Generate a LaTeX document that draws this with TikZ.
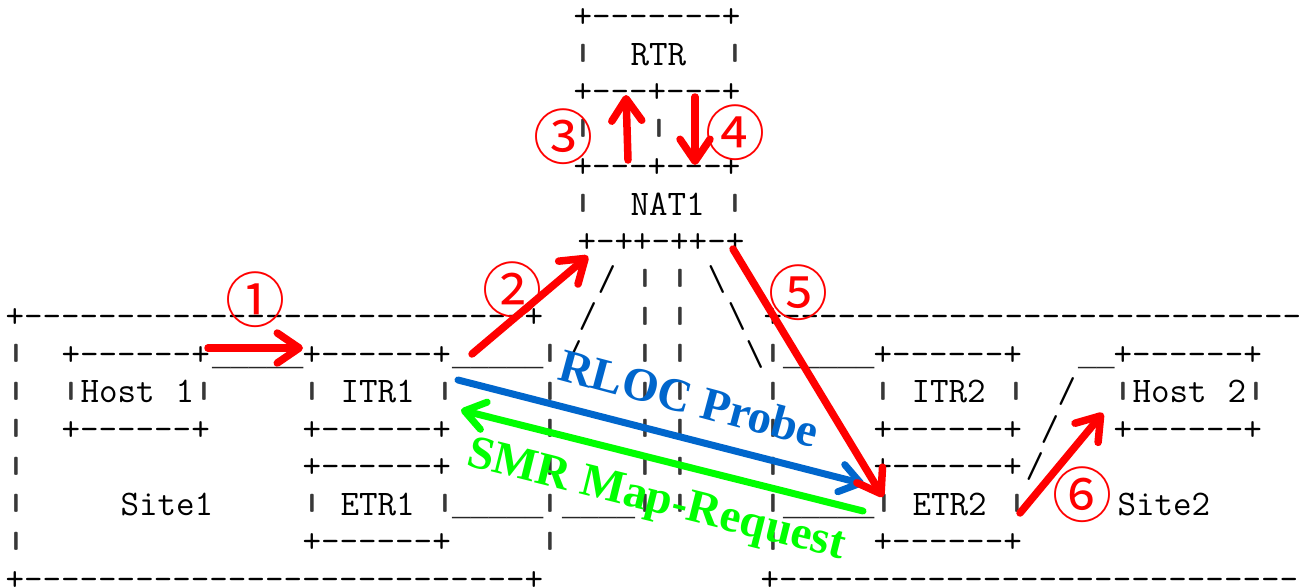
\documentclass[tikz,border=0pt]{standalone}
\usepackage{fontspec}
\usepackage{graphicx}
\newfontfamily\cjk{Noto Sans CJK SC}
\newfontfamily\umono{Liberation Mono}
\newfontfamily\tnr{Liberation Serif}
\usetikzlibrary{arrows.meta}
\definecolor{cred}{RGB}{255,0,0}
\definecolor{cblue}{RGB}{0,102,204}
\definecolor{cgreen}{RGB}{0,255,0}
\newcommand\asciibar{\makebox[0.525em]{\raisebox{0.13em}{\textcolor{black!78}{\scalebox{1.5}[0.65]{|}}}}}
\newcommand\dashrun[1]{\foreach\i in {1,...,#1}{\mbox{-}}}
\newcommand\At[4]{\node[asc] (#1) at ({#2-9.5},{27.5+37.53*(#3)}) {#4};}
\newcommand\Us[4]{\node[und] (#1) at (#2,{27.5+37.53*(#3)}) {\foreach\i in {1,...,#4}{\_}};}
\begin{document}
\begin{tikzpicture}[x=1pt,y=-1pt,
  asc/.style={anchor=base west, inner sep=0pt, outer sep=0pt, text=black, font=\ttfamily\fontsize{36}{36}\selectfont},
  und/.style={anchor=base west, inner sep=0pt, outer sep=0pt, text=black!85, font=\umono\fontsize{30.5}{30.5}\selectfont},
  num/.style={inner sep=0pt, text=cred, font=\cjk\fontsize{60}{60}\selectfont},
  redarr/.style={draw=cred, line width=7.5pt, line cap=round, -{Straight Barb[length=22pt,width=30pt,round]}},
  bluearr/.style={draw=cblue, line width=7pt, line cap=round, -{Straight Barb[length=20pt,width=28pt,round]}},
  greenarr/.style={draw=cgreen, line width=7pt, line cap=round, -{Straight Barb[length=20pt,width=28pt,round]}},
  lbl/.style={inner sep=0pt, font=\tnr\bfseries\fontsize{47}{47}\selectfont}
]
\fill[white] (0,0) rectangle (1305,587);
\useasboundingbox (0,0) rectangle (1305,587);
% RTR and NAT1
\At{rtrtop}{583}{0}{+\dashrun{7}+}
\At{rtrl}{583}{1}{\asciibar}\At{rtr}{640}{1}{RTR}\At{rtrr}{735}{1}{\asciibar}
\At{rtrbot}{583}{2}{+\dashrun{3}+\dashrun{3}+}
\At{lnkl}{583}{3}{\asciibar}\At{lnkm}{659}{3}{\asciibar}
\At{nattop}{583}{4}{+\dashrun{3}+\dashrun{3}+}
\At{natl}{583}{5}{\asciibar}\At{nat}{640}{5}{NAT1}\At{natr}{735}{5}{\asciibar}
\At{natbot}{587}{6}{+\dashrun{1}++\dashrun{1}++\dashrun{1}+}
\At{sa7}{607}{7}{/}\At{pa7}{645}{7}{\asciibar}\At{pb7}{680}{7}{\asciibar}\At{bs7}{717}{7}{\textbackslash}
% row 8
\At{s1top}{15}{8}{+\dashrun{27}+}
\At{sa8}{588}{8}{/}\At{pa8}{645}{8}{\asciibar}\At{pb8}{680}{8}{\asciibar}\At{bs8}{737}{8}{\textbackslash}
\At{s2top}{773}{8}{+\dashrun{28}}
% row 9
\At{s1l9}{16}{9}{\asciibar}
\At{h1top}{71}{9}{+\dashrun{6}+}
\Us{u91}{212}{9}{5}
\At{itr1top}{312}{9}{+\dashrun{6}+}
\Us{u92}{452}{9}{5}
\At{s1r9}{550}{9}{\asciibar}\At{sa9}{573}{9}{/}
\At{pa9}{645}{9}{\asciibar}\At{pb9}{680}{9}{\asciibar}
\At{bs9}{755}{9}{\textbackslash}\At{s2l9}{773}{9}{\asciibar}
\Us{u93}{783}{9}{5}
\At{itr2top}{883}{9}{+\dashrun{6}+}
\Us{u94}{1078}{9}{2}
\At{h2top}{1123}{9}{+\dashrun{6}+}
% row 10
\At{s1l10}{16}{10}{\asciibar}
\At{h1l}{71}{10}{\asciibar}\At{host1a}{90}{10}{Host}\At{host1b}{185}{10}{1}\At{h1r}{204}{10}{\asciibar}
\At{itr1l}{312}{10}{\asciibar}\At{itr1}{350}{10}{ITR1}\At{itr1r}{445}{10}{\asciibar}
\At{s1r10}{550}{10}{\asciibar}\At{pa10}{645}{10}{\asciibar}\At{pb10}{680}{10}{\asciibar}
\At{s2l10}{773}{10}{\asciibar}
\At{itr2l}{883}{10}{\asciibar}\At{itr2}{921}{10}{ITR2}\At{itr2r}{1016}{10}{\asciibar}
\At{sl10}{1067}{10}{/}
\At{h2l}{1123}{10}{\asciibar}\At{host2a}{1142}{10}{Host}\At{host2b}{1237}{10}{2}\At{h2r}{1256}{10}{\asciibar}
% row 11
\At{s1l11}{16}{11}{\asciibar}
\At{h1bot}{71}{11}{+\dashrun{6}+}
\At{itr1bot}{312}{11}{+\dashrun{6}+}
\At{s1r11}{550}{11}{\asciibar}\At{pa11}{645}{11}{\asciibar}\At{pb11}{680}{11}{\asciibar}
\At{s2l11}{773}{11}{\asciibar}
\At{itr2bot}{883}{11}{+\dashrun{6}+}
\At{sl11}{1050}{11}{/}
\At{h2bot}{1123}{11}{+\dashrun{6}+}
% row 12
\At{s1l12}{16}{12}{\asciibar}
\At{etr1top}{312}{12}{+\dashrun{6}+}
\At{s1r12}{550}{12}{\asciibar}\At{pa12}{645}{12}{\asciibar}\At{pb12}{680}{12}{\asciibar}
\At{s2l12}{773}{12}{\asciibar}
\At{etr2top}{883}{12}{+\dashrun{6}+}
\At{sl12}{1035}{12}{/}
% row 13
\At{s1l13}{16}{13}{\asciibar}
\At{site1}{130}{13}{Site1}
\At{etr1l}{312}{13}{\asciibar}\At{etr1}{350}{13}{ETR1}\At{etr1r}{445}{13}{\asciibar}
\Us{u131}{452}{13}{5}
\At{s1r13}{550}{13}{\asciibar}
\Us{u132}{562}{13}{4}
\At{pa13}{645}{13}{\asciibar}\At{pb13}{680}{13}{\asciibar}
\At{s2l13}{773}{13}{\asciibar}
\Us{u133}{783}{13}{5}
\At{etr2l}{884}{13}{\asciibar}\At{etr2}{922}{13}{ETR2}\At{etr2r}{1017}{13}{\asciibar}
\At{site2}{1127}{13}{Site2}
% row 14
\At{s1l14}{16}{14}{\asciibar}
\At{etr1bot}{312}{14}{+\dashrun{6}+}
\At{s1r14}{550}{14}{\asciibar}
\At{s2l14}{773}{14}{\asciibar}
\At{etr2bot}{883}{14}{+\dashrun{6}+}
% row 15
\At{s1bot}{15}{15}{+\dashrun{27}+}
\At{s2bot}{770}{15}{+\dashrun{28}}
% arrows
\coordinate (a1s) at (208,348); \coordinate (a1e) at (303,348);
\coordinate (a2s) at (472,354); \coordinate (a2e) at (588,256);
\coordinate (a3s) at (628,160); \coordinate (a3e) at (626,95);
\coordinate (a4s) at (695,97);  \coordinate (a4e) at (695,165);
\coordinate (a5s) at (733,249); \coordinate (a5e) at (883,497);
\coordinate (a6s) at (1020,513); \coordinate (a6e) at (1103,413);
\coordinate (bs) at (458,380); \coordinate (be) at (864,484);
\coordinate (gs) at (863,511); \coordinate (ge) at (461,410);
\draw[bluearr] (bs) -- (be);
\draw[greenarr] (gs) -- (ge);
\draw[redarr] (a1s) -- (a1e);
\draw[redarr] (a2s) -- (a2e);
\draw[redarr] (a3s) -- (a3e);
\draw[redarr] (a4s) -- (a4e);
\draw[redarr] (a5s) -- (a5e);
\draw[redarr] (a6s) -- (a6e);
% labels
\node[num] (n1) at (255,300) {①};
\node[num] (n2) at (512,290) {②};
\node[num] (n3) at (563,137) {③};
\node[num] (n4) at (735,133) {④};
\node[num] (n5) at (798,293) {⑤};
\node[num] (n6) at (1082,495) {⑥};
\node[lbl, text=cblue, rotate=-15] (rloc) at (689,398) {RLOC Probe};
\node[lbl, text=cgreen, rotate=-14] (smr) at (656,502) {SMR Map-Request};
\end{tikzpicture}
\end{document}
